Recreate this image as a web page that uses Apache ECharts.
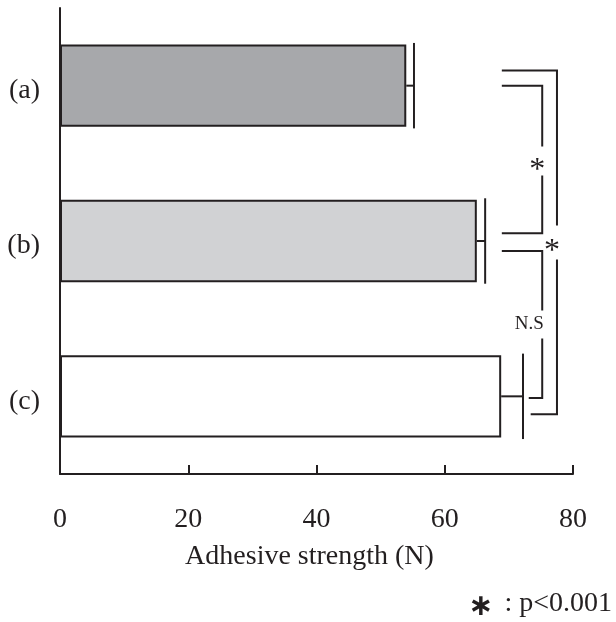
<!DOCTYPE html>
<html><head><meta charset="utf-8">
<script src="https://cdn.jsdelivr.net/npm/echarts@6/dist/echarts.min.js"></script>
<style>html,body{margin:0;padding:0;background:#fff}#c{width:616px;height:622px}</style>
</head><body><div id="c"></div>
<script>
const categories = ['(a)', '(b)', '(c)'];
const means = [54, 65, 68.8];
const errors = [1.2, 1.3, 3.4];
const xTicks = [0, 20, 40, 60, 80];
const comparisons = [[0, 1, '*'], [1, 2, 'N.S'], [0, 2, '*']];
const barColors = ['#a7a8ab', '#d1d2d4', '#ffffff'];

const INK = '#231f20';
const FONT = '"Liberation Serif", "Times New Roman", serif';

// layout for the significance brackets (x in data units, y in band fractions)
const bracketLayout = [
  {topX: 68.9, botX: 68.9, vX: 75.2, topOff: 0.0, botOff: -0.05, gapT: 13, gapB: 16, lblDx: -5, lblDy: 11, size: 32},
  {topX: 68.9, botX: 73.1, vX: 75.2, topOff: 0.064, botOff: 0.01, gapT: 14, gapB: 14, lblDx: -13, lblDy: 0, size: 19},
  {topX: 68.9, botX: 73.4, vX: 77.5, topOff: -0.097, botOff: 0.115, gapT: 17, gapB: 17, lblDx: -5, lblDy: 9, size: 32}
];

const chart = echarts.init(document.getElementById('c'), null, {renderer: 'canvas'});
chart.setOption({
  animation: false,
  backgroundColor: '#fff',
  grid: {left: 60, right: 43, top: 8, bottom: 148, containLabel: false},
  xAxis: {
    type: 'value', min: xTicks[0], max: xTicks[xTicks.length - 1], interval: 20,
    axisLine: {show: true, lineStyle: {color: INK, width: 2}},
    axisTick: {show: true, inside: true, length: 9, lineStyle: {color: INK, width: 2}},
    splitLine: {show: false},
    axisLabel: {color: INK, fontFamily: FONT, fontSize: 28, margin: 32},
    name: 'Adhesive strength (N)', nameLocation: 'middle', nameGap: 69,
    nameTextStyle: {color: INK, fontFamily: FONT, fontSize: 28, padding: [0, 14, 0, 0]}
  },
  yAxis: {
    type: 'category', data: categories, inverse: true,
    axisLine: {show: true, lineStyle: {color: INK, width: 2}},
    axisTick: {show: false},
    axisLabel: {color: INK, fontFamily: FONT, fontSize: 28, margin: 20, verticalAlign: 'top', lineHeight: 10}
  },
  series: [
    {
      type: 'bar', barWidth: '53%',
      data: means.map((v, i) => ({value: v, itemStyle: {color: barColors[i], borderColor: INK, borderWidth: 2}})),
      z: 2
    },
    {
      type: 'custom', z: 3,
      encode: {x: 1, y: 0},
      data: means.map((v, i) => [i, v, errors[i]]),
      renderItem: function (params, api) {
        const i = api.value(0), m = api.value(1), e = api.value(2);
        const p0 = api.coord([m, i]);
        const p1 = api.coord([m + e, i]);
        const band = api.size([0, 1])[1];
        const h = band * 0.55 / 2;
        const st = {stroke: INK, lineWidth: 2};
        return {type: 'group', children: [
          {type: 'line', shape: {x1: p0[0], y1: p0[1], x2: p1[0], y2: p1[1]}, style: st},
          {type: 'line', shape: {x1: p1[0], y1: p1[1] - h, x2: p1[0], y2: p1[1] + h}, style: st}
        ]};
      }
    },
    {
      type: 'custom', z: 3,
      encode: {x: 1, y: 0},
      data: comparisons.map((c, k) => [c[0], 0, c[1], k]),
      renderItem: function (params, api) {
        const idx = params.dataIndex;
        const cmp = comparisons[idx];
        const L = bracketLayout[idx];
        const band = api.size([0, 1])[1];
        const top = api.coord([L.topX, cmp[0]]);
        const bot = api.coord([L.botX, cmp[1]]);
        const vx = api.coord([L.vX, cmp[0]])[0];
        const yT = top[1] + L.topOff * band;
        const yB = bot[1] + L.botOff * band;
        const mid = (yT + yB) / 2;
        const st = {stroke: INK, lineWidth: 2};
        return {type: 'group', children: [
          {type: 'polyline', shape: {points: [[top[0], yT], [vx, yT], [vx, mid - L.gapT]]}, style: Object.assign({fill: null}, st)},
          {type: 'polyline', shape: {points: [[bot[0], yB], [vx, yB], [vx, mid + L.gapB]]}, style: Object.assign({fill: null}, st)},
          {type: 'text', style: {text: cmp[2], x: vx + L.lblDx, y: mid + L.lblDy, textAlign: 'center', textVerticalAlign: 'middle',
            fill: INK, font: L.size + 'px ' + FONT}}
        ]};
      }
    }
  ],
  graphic: [
    {type: 'text', right: 4, bottom: 0, style: {
      text: '{s|∗} : p<0.001',
      rich: {s: {font: 'bold 30px "DejaVu Sans", sans-serif', fill: INK, padding: [6, 4, 0, 0]}},
      fill: INK, font: '28px ' + FONT}}
  ]
});
</script>
</body></html>
